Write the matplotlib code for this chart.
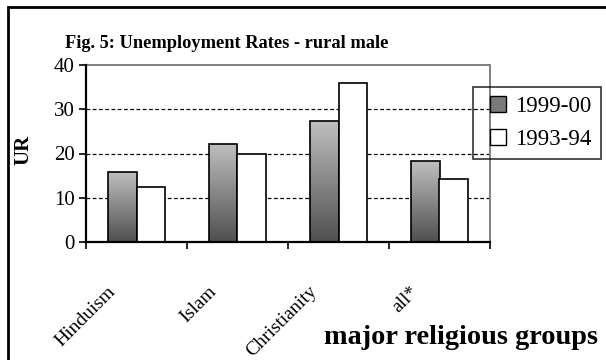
import matplotlib
matplotlib.use("Agg")
import matplotlib.pyplot as plt
import matplotlib.transforms as mtransforms
from matplotlib.patches import Rectangle
from matplotlib.lines import Line2D
import numpy as np

plt.rcParams['font.family'] = ['Liberation Serif', 'DejaVu Serif']

# data
groups = ['Hinduism', 'Islam', 'Christianity', 'all*']
ur_1999 = [15.9, 22.2, 27.3, 18.2]
ur_1993 = [12.4, 20.0, 35.9, 14.2]
series_labels = ['1999-00', '1993-94']

fig = plt.figure(figsize=(6.06, 3.6), dpi=100)
W, H = 606, 360
ax = fig.add_axes([86 / W, 1 - 242 / H, (490 - 86) / W, (242 - 65) / H])

x = np.arange(len(groups)) + 0.5
bw = 0.286

# gradient bars (light at top, dark at bottom)
grad = np.linspace(0.75, 0.31, 256).reshape(-1, 1)
bars1 = ax.bar(x - bw / 2, ur_1999, bw, facecolor='none', edgecolor='black',
               linewidth=1.2, zorder=3)
for b in bars1:
    x0, y0 = b.get_x(), b.get_y()
    im = ax.imshow(grad, cmap='gray', vmin=0, vmax=1, aspect='auto',
                   extent=[x0, x0 + b.get_width(), y0, y0 + b.get_height()],
                   origin='upper', zorder=2)
    im.set_clip_path(b)
bars2 = ax.bar(x + bw / 2, ur_1993, bw, facecolor='white', edgecolor='black',
               linewidth=1.2, zorder=3)

ax.set_xlim(0, 4)
ax.set_ylim(0, 40)
ax.set_yticks([0, 10, 20, 30, 40])
ax.tick_params(axis='y', direction='out', length=5, width=1.2, labelsize=15, pad=3)
ax.set_xticks(np.arange(0, 5))
ax.set_xticklabels([])
ax.tick_params(axis='x', which='major', direction='out', length=5, width=1.2)
ax.set_xticks(x, minor=True)
ax.set_xticklabels(groups, minor=True, rotation=45, ha='right', va='center',
                   rotation_mode='anchor', fontsize=14)
ax.tick_params(axis='x', which='minor', length=0, pad=34)
offset = mtransforms.ScaledTranslation(-24 / 100, 0, fig.dpi_scale_trans)
for lab in ax.get_xticklabels(minor=True):
    lab.set_transform(lab.get_transform() + offset)

for yv in [10, 20, 30]:
    ax.axhline(yv, color='black', linestyle=(0, (3, 2)), linewidth=0.9, zorder=1)

for s in ['left', 'bottom']:
    ax.spines[s].set_linewidth(1.6)
    ax.spines[s].set_zorder(4)
for s in ['top', 'right']:
    ax.spines[s].set_color('#808080')
    ax.spines[s].set_linewidth(1.4)

fig.text(65 / W, 1 - 44 / H, 'Fig. 5: Unemployment Rates - rural male',
         fontsize=13.2, fontweight='bold', ha='left', va='center')
fig.text(23 / W, 1 - 150 / H, 'UR', fontsize=15, fontweight='bold',
         rotation=90, ha='center', va='center')
fig.text(598 / W, 1 - 338 / H, 'major religious groups', fontsize=20.3,
         fontweight='bold', ha='right', va='center')

handles = [Line2D([], [], linestyle='none', marker='s', markersize=11,
                  markerfacecolor='#7a7a7a', markeredgecolor='black'),
           Line2D([], [], linestyle='none', marker='s', markersize=11,
                  markerfacecolor='white', markeredgecolor='black')]
leg = fig.legend(handles, series_labels, loc='upper left',
                 bbox_to_anchor=(473 / W, 1 - 87 / H), fontsize=16.5,
                 frameon=True, fancybox=False, borderpad=0.4,
                 handlelength=1.4, handletextpad=0.05,
                 labelspacing=0.5, borderaxespad=0)
leg.get_frame().set_edgecolor('black')
leg.get_frame().set_linewidth(1.2)
leg.get_frame().set_facecolor('none')

# outer chart border (left and top edges visible)
fig.patches.append(Rectangle((8 / W, -0.1), 1.2, 1.1 - 7 / H, transform=fig.transFigure,
                             fill=False, edgecolor='black', linewidth=2))

fig.savefig('out.png', dpi=100)
